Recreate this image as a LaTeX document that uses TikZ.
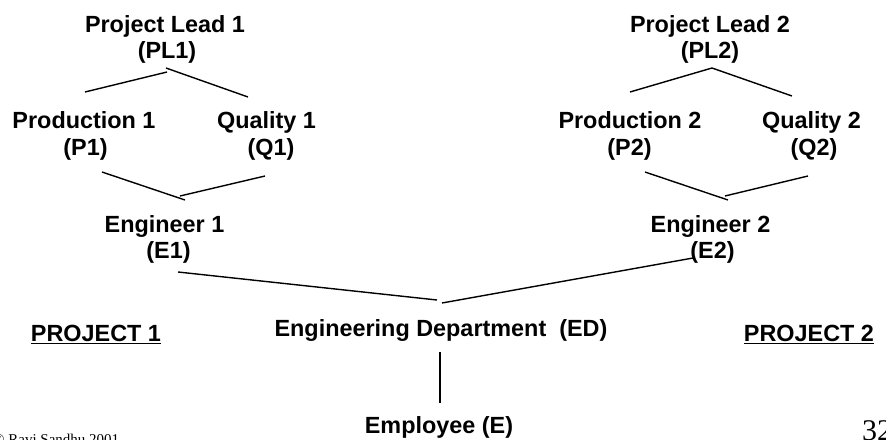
\documentclass[tikz,border=0pt]{standalone}
\usepackage{fontspec}
\setmainfont{Liberation Sans}
\newfontfamily\serifont{Liberation Serif}
\usetikzlibrary{calc}
\tikzset{
  lbl/.style={inner sep=0pt, anchor=base, font=\fontsize{23.4}{27}\selectfont\bfseries},
  conn/.style={line width=1.4pt, black},
}
\begin{document}
\begin{tikzpicture}[x=1pt,y=-1pt]
\useasboundingbox (0,0) rectangle (886,439);
\clip (0,0) rectangle (886,439);
% project 1
\node[lbl] (pl1) at (165,32) {Project Lead 1};
\node[lbl] (pl1b) at (167,58.5) {(PL1)};
\node[lbl] (p1) at (84,128) {Production 1};
\node[lbl] (p1b) at (85.5,155) {(P1)};
\node[lbl] (q1) at (266.5,128) {Quality 1};
\node[lbl] (q1b) at (271,155) {(Q1)};
\node[lbl] (e1) at (164.5,232) {Engineer 1};
\node[lbl] (e1b) at (168.5,258.5) {(E1)};
% project 2
\node[lbl] (pl2) at (710,32) {Project Lead 2};
\node[lbl] (pl2b) at (710,58.5) {(PL2)};
\node[lbl] (p2) at (630,128) {Production 2};
\node[lbl] (p2b) at (629.5,155) {(P2)};
\node[lbl] (q2) at (811.5,128) {Quality 2};
\node[lbl] (q2b) at (814,155) {(Q2)};
\node[lbl] (e2) at (710.5,232) {Engineer 2};
\node[lbl] (e2b) at (712.5,258.5) {(E2)};
% department
\node[lbl] (ed) at (441,336) {Engineering Department\ \ (ED)};
\node[lbl] (emp) at (439,433) {Employee (E)};
\node[lbl] (proj1) at (96,341) {PROJECT 1};
\node[lbl] (proj2) at (809,341) {PROJECT 2};
\draw[line width=1.3pt] ($(proj1.base west)+(0,2.5)$) -- ($(proj1.base east)+(0,2.5)$);
\draw[line width=1.3pt] ($(proj2.base west)+(0,2.5)$) -- ($(proj2.base east)+(0,2.5)$);
% footer
\node[inner sep=0pt, anchor=base west, font=\serifont\fontsize{15}{18}\selectfont] (copy) at (-7,444) {\textcopyright\ Ravi Sandhu 2001};
\node[inner sep=0pt, anchor=base west, font=\serifont\fontsize{30}{34}\selectfont] (pg) at (862,440) {32};
% connector end points
\coordinate (pl1l) at (167,72);
\coordinate (pl1r) at (166,68);
\coordinate (p1t) at (85,92);
\coordinate (q1t) at (248,97);
\coordinate (p1d) at (102,172);
\coordinate (q1d) at (265,176);
\coordinate (e1l) at (185,200);
\coordinate (e1r) at (180,196);
\coordinate (pl2t) at (712,68);
\coordinate (p2t) at (630,92);
\coordinate (q2t) at (792,96);
\coordinate (p2d) at (645,172);
\coordinate (q2d) at (808,176);
\coordinate (e2l) at (728,200);
\coordinate (e2r) at (725,196);
\coordinate (e1d) at (178,272);
\coordinate (e2d) at (693,258);
\coordinate (edl) at (437,300);
\coordinate (edr) at (442,303);
\coordinate (edb) at (440,352);
\coordinate (empt) at (440,403);
% connectors
\draw[conn] (pl1l) -- (p1t);
\draw[conn] (pl1r) -- (q1t);
\draw[conn] (p1d) -- (e1l);
\draw[conn] (q1d) -- (e1r);
\draw[conn] (pl2t) -- (p2t);
\draw[conn] (pl2t) -- (q2t);
\draw[conn] (p2d) -- (e2l);
\draw[conn] (q2d) -- (e2r);
\draw[conn] (e1d) -- (edl);
\draw[conn] (e2d) -- (edr);
\draw[conn] (edb) -- (empt);
\end{tikzpicture}
\end{document}
